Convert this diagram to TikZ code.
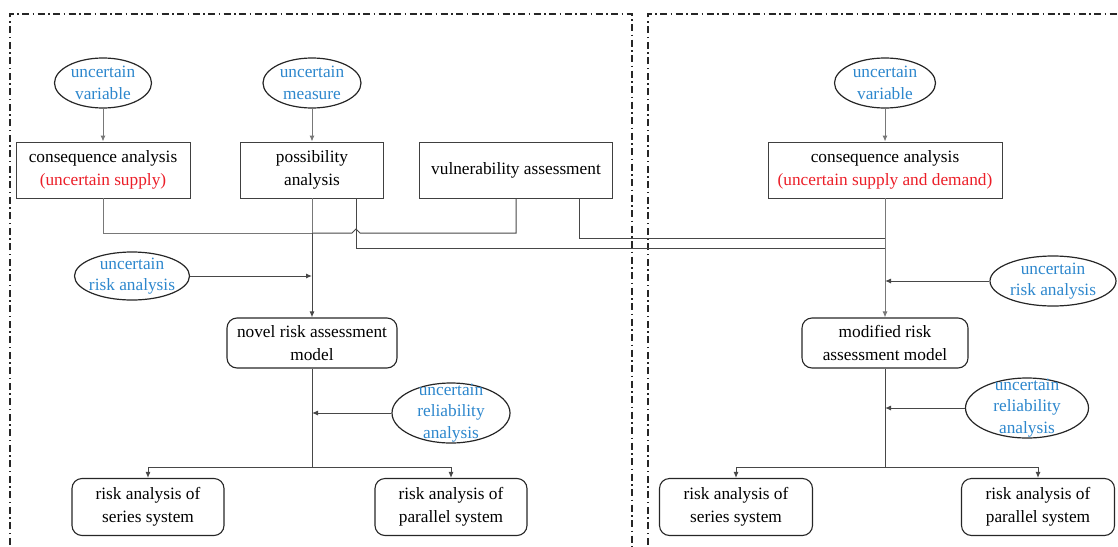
\documentclass[tikz,border=0pt]{standalone}
\usepackage{fontspec}
\setmainfont{Liberation Serif}
\usetikzlibrary{shapes.geometric,arrows.meta}
\definecolor{ublue}{RGB}{45,135,205}
\definecolor{ured}{RGB}{235,30,40}
\definecolor{lgray}{RGB}{120,120,120}
\tikzset{
  txt/.style={font=\fontsize{17.3}{22.5}\selectfont, align=center},
  ell/.style={ellipse, draw=black!85, line width=1.2pt, inner sep=0pt},
  etxt/.style={font=\fontsize{17.3}{21.5}\selectfont, align=center, text=ublue, inner sep=0pt},
  sqbox/.style={txt, rectangle, draw=black!75, line width=0.9pt},
  rbox/.style={txt, rectangle, rounded corners=10pt, draw=black!85, line width=1.1pt},
  conn/.style={draw=lgray, line width=1pt},
  dconn/.style={draw=black!72, line width=1pt},
  arr/.style={conn, -{Latex[length=6pt,width=5pt]}},
  darr/.style={dconn, -{Latex[length=6pt,width=5pt]}},
  frame/.style={draw=black!85, line width=1.6pt, dash pattern=on 7pt off 3.5pt on 1.5pt off 3.5pt},
}
\begin{document}
\begin{tikzpicture}[x=1pt,y=-1pt]
\useasboundingbox (0,0) rectangle (1118,546);
\clip (0,0) rectangle (1118,546);
% frames
\draw[frame] (10,560) -- (10,14) -- (632,14) -- (632,560);
\draw[frame] (648,560) -- (648,14) -- (1130,14) -- (1130,560);

% left side
\node[ell, minimum width=97, minimum height=50] (uv1) at (103,83) {};
\node[etxt] at (uv1) {uncertain\\variable};
\node[ell, minimum width=98, minimum height=50] (um) at (312,83) {};
\node[etxt] at (um) {uncertain\\measure};
\node[sqbox, minimum width=174, minimum height=56] (ca1) at (103,170) {consequence analysis\\\textcolor{ured}{(uncertain supply)}};
\node[sqbox, minimum width=143, minimum height=56] (pa) at (312,170) {possibility\\analysis};
\node[sqbox, minimum width=193, minimum height=56] (va) at (516,170) {vulnerability assessment};
\node[ell, minimum width=115, minimum height=48] (ura1) at (132,276) {};
\node[etxt] at (ura1) {uncertain\\risk analysis};
\node[rbox, minimum width=170, minimum height=50] (nrm) at (312,343) {novel risk assessment\\model};
\node[ell, minimum width=118, minimum height=60] (ural1) at (451,413) {};
\node[etxt] at (ural1) {uncertain\\reliability\\analysis};
\node[rbox, minimum width=152, minimum height=57] (ser1) at (148,507) {risk analysis of\\series system};
\node[rbox, minimum width=152, minimum height=57] (par1) at (451,507) {risk analysis of\\parallel system};

% right side
\node[ell, minimum width=101, minimum height=50] (uv2) at (885,83) {};
\node[etxt] at (uv2) {uncertain\\variable};
\node[sqbox, minimum width=234, minimum height=56] (ca2) at (885,170) {consequence analysis\\\textcolor{ured}{(uncertain supply and demand)}};
\node[ell, minimum width=126, minimum height=50] (ura2) at (1053,281) {};
\node[etxt] at (ura2) {uncertain\\risk analysis};
\node[rbox, minimum width=166, minimum height=50] (mrm) at (885,343) {modified risk\\assessment model};
\node[ell, minimum width=123, minimum height=60] (ural2) at (1027,408) {};
\node[etxt] at (ural2) {uncertain\\reliability\\analysis};
\node[rbox, minimum width=153, minimum height=57] (ser2) at (736,507) {risk analysis of\\series system};
\node[rbox, minimum width=153, minimum height=57] (par2) at (1038,507) {risk analysis of\\parallel system};

% helper coordinates
\coordinate (pax) at (356,0);
\coordinate (vax) at (579,0);
\coordinate (m1) at (312,233);
\coordinate (b1) at (312,467);
\coordinate (b2) at (885,467);

% connectors left
\draw[arr] (uv1) -- (ca1);
\draw[arr] (um) -- (pa);
\draw[conn] (ca1.south) |- (m1);
\draw[dconn] (m1) -- (352,233) -- (356,229) -- (360,233) -| (va.south);
\draw[conn] (pa.south) -- (m1);
\draw[darr] (m1) -- (nrm.north);
\draw[dconn] (pa.south -| pax) -- (356,248) -- (885,248);
\draw[dconn] (va.south -| vax) -- (579,238) -- (885,238);
\draw[darr] (ura1.east) -- (ura1.east -| nrm.north);
\draw[darr] (ural1.west) -- (ural1.west -| nrm.south);
\draw[dconn] (nrm.south) -- (b1);
\draw[darr] (b1) -| (ser1.north);
\draw[darr] (b1) -| (par1.north);

% connectors right
\draw[arr] (uv2) -- (ca2);
\draw[arr] (ca2.south) -- (mrm.north);
\draw[darr] (ura2.west) -- (ura2.west -| mrm.north);
\draw[darr] (ural2.west) -- (ural2.west -| mrm.south);
\draw[dconn] (mrm.south) -- (b2);
\draw[darr] (b2) -| (ser2.north);
\draw[darr] (b2) -| (par2.north);
\end{tikzpicture}
\end{document}
